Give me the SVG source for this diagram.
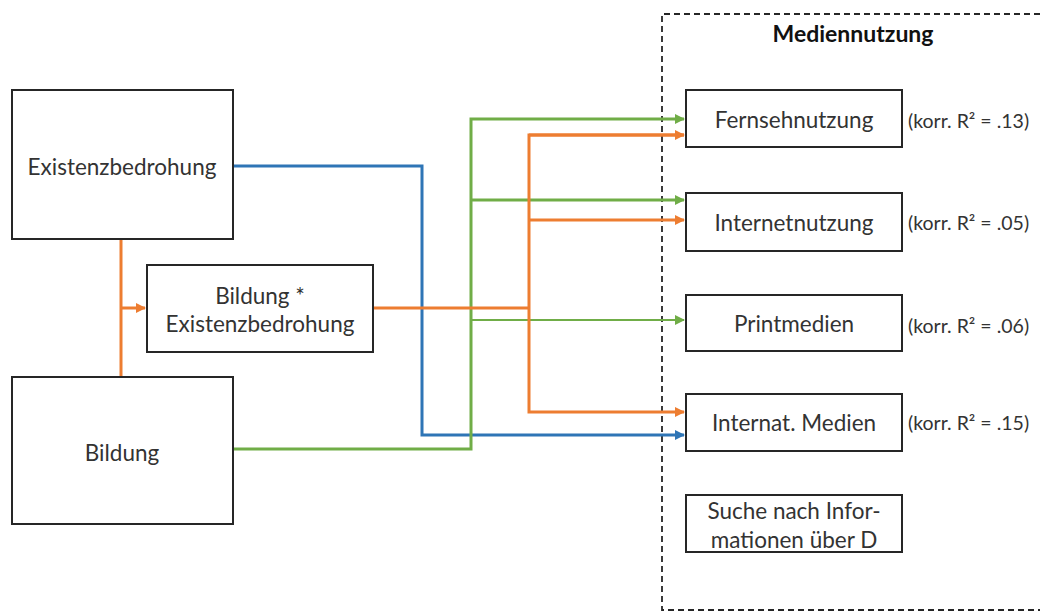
<svg xmlns="http://www.w3.org/2000/svg" width="1040" height="614" viewBox="0 0 1040 614">
<style>
.box{fill:#fff;stroke:#262626;stroke-width:2}
.t{font-family:Lato,"Liberation Sans",sans-serif;font-size:22.5px;fill:#333;text-anchor:middle;dominant-baseline:central}
.r{font-family:Lato,"Liberation Sans",sans-serif;font-size:19.5px;fill:#333;dominant-baseline:central}
.c{fill:none;stroke-width:3}
.bl{stroke:#2E75B6}
.gr{stroke:#70AD47}
.or{stroke:#ED7D31}
</style>
<defs>
<marker id="ab" viewBox="0 0 10 10" refX="9" refY="5" markerWidth="10" markerHeight="10" markerUnits="userSpaceOnUse" orient="auto"><path d="M0,0 L10,5 L0,10 z" fill="#2E75B6"/></marker>
<marker id="ag" viewBox="0 0 10 10" refX="9" refY="5" markerWidth="10" markerHeight="10" markerUnits="userSpaceOnUse" orient="auto"><path d="M0,0 L10,5 L0,10 z" fill="#70AD47"/></marker>
<marker id="ao" viewBox="0 0 10 10" refX="9" refY="5" markerWidth="10" markerHeight="10" markerUnits="userSpaceOnUse" orient="auto"><path d="M0,0 L10,5 L0,10 z" fill="#ED7D31"/></marker>
</defs>
<rect width="1040" height="614" fill="#fff"/>
<g id="mediennutzung-frame">
<path d="M1040,14 H662 V610 H1040" fill="none" stroke="#262626" stroke-width="1.8" stroke-dasharray="6,4"/>
<text x="853" y="33" class="t" style="font-weight:bold;fill:#111;font-size:23px">Mediennutzung</text>
</g>
<g id="connectors">
<path class="c bl" d="M233,166 H422 V435 H684" marker-end="url(#ab)"/>
<path class="c gr" d="M233,449 H471 V119 H684" marker-end="url(#ag)"/>
<path class="c gr" d="M471,200 H684" marker-end="url(#ag)"/>
<path class="c gr" d="M471,320 H684" style="stroke-width:2" marker-end="url(#ag)"/>
<path class="c or" d="M121,239 V377"/>
<path class="c or" d="M121,308 H145" marker-end="url(#ao)"/>
<path class="c or" d="M373,308 H529"/>
<path class="c or" d="M684,135 H529 V412 H684" marker-end="url(#ao)"/>
<path class="c or" d="M529,135 H684" marker-end="url(#ao)"/>
<path class="c or" d="M529,220 H684" marker-end="url(#ao)"/>
</g>
<g id="existenzbedrohung">
<rect class="box" x="12" y="90" width="221" height="149"/>
<text x="122" y="166" class="t">Existenzbedrohung</text>
</g>
<g id="interaktion">
<rect class="box" x="147" y="265" width="226" height="87"/>
<text x="260" y="295" class="t">Bildung *</text>
<text x="260" y="323" class="t">Existenzbedrohung</text>
</g>
<g id="bildung">
<rect class="box" x="12" y="377" width="221" height="147"/>
<text x="122" y="452" class="t">Bildung</text>
</g>
<g id="fernsehnutzung">
<rect class="box" x="686" y="90" width="216" height="57"/>
<text x="794" y="119" class="t">Fernsehnutzung</text>
<text x="908" y="120" class="r">(korr. R² = .13)</text>
</g>
<g id="internetnutzung">
<rect class="box" x="686" y="193" width="216" height="58"/>
<text x="794" y="222" class="t">Internetnutzung</text>
<text x="908" y="222" class="r">(korr. R² = .05)</text>
</g>
<g id="printmedien">
<rect class="box" x="686" y="295" width="216" height="56"/>
<text x="794" y="323" class="t">Printmedien</text>
<text x="908" y="325" class="r">(korr. R² = .06)</text>
</g>
<g id="internat-medien">
<rect class="box" x="686" y="394" width="216" height="57"/>
<text x="794" y="422" class="t">Internat. Medien</text>
<text x="908" y="422" class="r">(korr. R² = .15)</text>
</g>
<g id="suche">
<rect class="box" x="686" y="495" width="216" height="57"/>
<text x="794" y="510" class="t">Suche nach Infor-</text>
<text x="794" y="539" class="t">mationen über D</text>
</g>
</svg>
